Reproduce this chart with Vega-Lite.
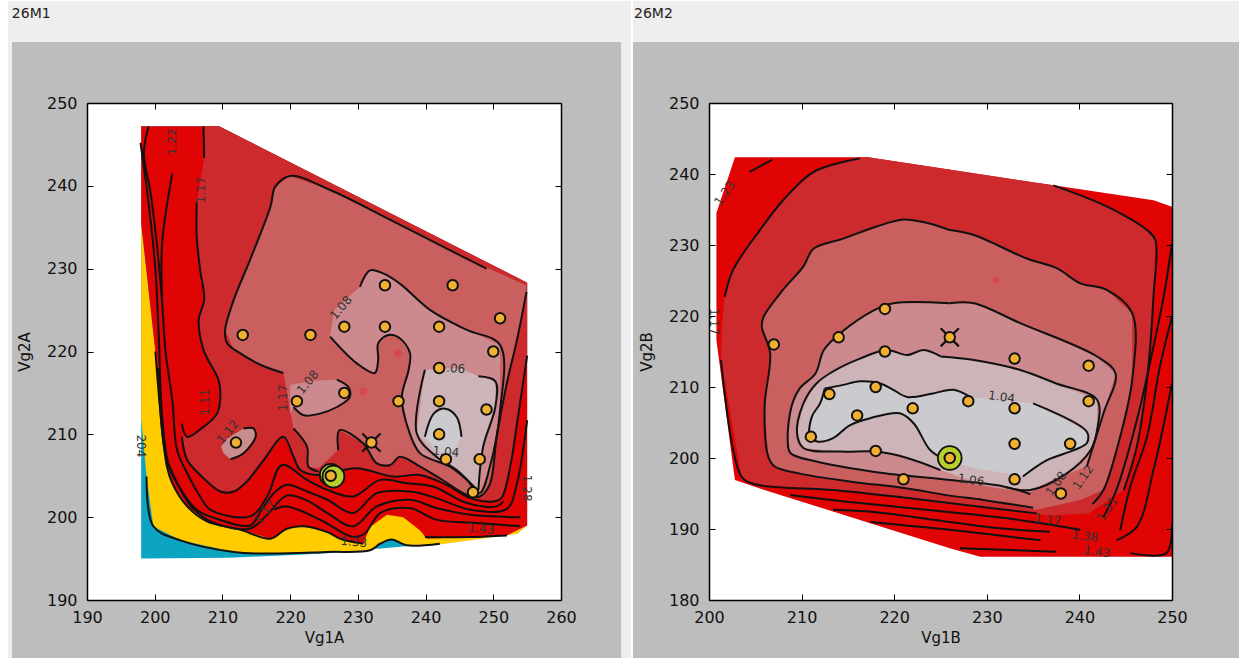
{"$schema":"https://vega.github.io/schema/vega-lite/v6.json","background":"white","padding":{"left":7,"top":0,"right":0,"bottom":0},"spacing":0,"config":{"view":{"stroke":null},"axis":{"labelFont":"DejaVu Sans","titleFont":"DejaVu Sans","labelFontSize":16,"titleFontSize":15,"titleFontWeight":"normal","labelColor":"#111","titleColor":"#111","grid":false,"domainColor":"#000","tickColor":"#000","domainWidth":1.5,"tickWidth":1,"tickSize":-6,"labelOverlap":false,"labelBound":false,"labelFlush":false}},
"datasets":{
"bg1":[{"k":"edge","x":178.33,"x2":270.35,"y":262.32,"y2":183},{"k":"panel","x":178.92,"x2":268.87,"y":257.37,"y2":183},{"k":"plot","x":190,"x2":260,"y":190,"y2":250}],
"bg2":[{"k":"edge","x":191.79,"x2":257.24,"y":264.36,"y2":171.83},{"k":"panel","x":191.79,"x2":257.24,"y":258.59,"y2":171.83},{"k":"plot","x":200,"x2":250,"y":180,"y2":250}],
"f1":[
{"s":"teal","x":198,"y":247.2},{"s":"teal","x":209.5,"y":247.2},{"s":"teal","x":255,"y":228.3},{"s":"teal","x":255,"y":199},{"s":"teal","x":253.5,"y":198},{"s":"teal","x":240,"y":196.7},{"s":"teal","x":225,"y":195.6},{"s":"teal","x":211,"y":195.1},{"s":"teal","x":198,"y":195},
{"s":"yellow","x":198,"y":235.5},{"s":"yellow","x":200.1,"y":220},{"s":"yellow","x":201.8,"y":206.1},{"s":"yellow","x":255,"y":199},{"s":"yellow","x":253.5,"y":198},{"s":"yellow","x":242.1,"y":196.7},{"s":"yellow","x":237.2,"y":196.6},{"s":"yellow","x":235,"y":197.3},{"s":"yellow","x":233.3,"y":196.8},{"s":"yellow","x":231.8,"y":196},{"s":"yellow","x":225.5,"y":195.8},{"s":"yellow","x":217,"y":195.6},{"s":"yellow","x":211.7,"y":195.8},{"s":"yellow","x":203.8,"y":197.2},{"s":"yellow","x":199.8,"y":198.9},{"s":"yellow","x":198.8,"y":204.9},{"s":"yellow","x":198,"y":212},
{"s":"red","x":198,"y":235.5},{"s":"red","x":198,"y":247.2},{"s":"red","x":209.5,"y":247.2},{"s":"red","x":255,"y":228.3},{"s":"red","x":255,"y":199},{"s":"red","x":252,"y":197.8},{"s":"red","x":240.2,"y":197.4},{"s":"red","x":239.2,"y":198.4},{"s":"red","x":236.7,"y":200},{"s":"red","x":234.3,"y":200.3},{"s":"red","x":231.8,"y":198.8},{"s":"red","x":230.8,"y":196.8},{"s":"red","x":227.4,"y":197.4},{"s":"red","x":225.5,"y":198.2},{"s":"red","x":222,"y":198.9},{"s":"red","x":219.5,"y":198.6},{"s":"red","x":217.1,"y":197.4},{"s":"red","x":212.6,"y":198.5},{"s":"red","x":207.7,"y":199.5},{"s":"red","x":204.8,"y":201.3},{"s":"red","x":202.6,"y":204.1},{"s":"red","x":201.8,"y":206.1},{"s":"red","x":200.1,"y":220},
{"s":"crimson","x":207.2,"y":247.2},{"s":"crimson","x":209.5,"y":247.2},{"s":"crimson","x":255,"y":228.3},{"s":"crimson","x":255,"y":219.5},{"s":"crimson","x":253.5,"y":211.3},{"s":"crimson","x":252.5,"y":206.1},{"s":"crimson","x":251.2,"y":202.3},{"s":"crimson","x":250,"y":201.9},{"s":"crimson","x":246.6,"y":202.3},{"s":"crimson","x":243.1,"y":203.9},{"s":"crimson","x":239.2,"y":205.1},{"s":"crimson","x":235.2,"y":204.9},{"s":"crimson","x":229.8,"y":205.9},{"s":"crimson","x":224,"y":205.1},{"s":"crimson","x":221.5,"y":205.7},{"s":"crimson","x":220.5,"y":207.3},{"s":"crimson","x":219,"y":209.7},{"s":"crimson","x":216.1,"y":206.9},{"s":"crimson","x":213.6,"y":204.3},{"s":"crimson","x":211.7,"y":203.1},{"s":"crimson","x":209.7,"y":203.1},{"s":"crimson","x":206.7,"y":205.1},{"s":"crimson","x":204.8,"y":206.9},{"s":"crimson","x":204,"y":209.7},{"s":"crimson","x":204.8,"y":209.7},{"s":"crimson","x":207.2,"y":210.9},{"s":"crimson","x":209.2,"y":212.5},{"s":"crimson","x":209.7,"y":215},{"s":"crimson","x":209.4,"y":216.6},{"s":"crimson","x":207.2,"y":220.2},{"s":"crimson","x":206.5,"y":223.8},{"s":"crimson","x":207.3,"y":226.3},{"s":"crimson","x":206.7,"y":229.9},{"s":"crimson","x":206.2,"y":233.9},{"s":"crimson","x":206.2,"y":238},{"s":"crimson","x":207.3,"y":243.4},
{"s":"rose","x":220,"y":241.2},{"s":"rose","x":225.9,"y":239.5},{"s":"rose","x":234.8,"y":235.9},{"s":"rose","x":245.1,"y":231.6},{"s":"rose","x":254.8,"y":228},{"s":"rose","x":254.9,"y":227.2},{"s":"rose","x":253.5,"y":221.4},{"s":"rose","x":252,"y":216.2},{"s":"rose","x":250.5,"y":209.7},{"s":"rose","x":249.5,"y":204},{"s":"rose","x":248.5,"y":202.5},{"s":"rose","x":246.1,"y":202.7},{"s":"rose","x":242.1,"y":204.7},{"s":"rose","x":239.2,"y":206.1},{"s":"rose","x":236.2,"y":207.3},{"s":"rose","x":234.8,"y":206.3},{"s":"rose","x":232.8,"y":206.5},{"s":"rose","x":230.8,"y":208.9},{"s":"rose","x":227.3,"y":210.5},{"s":"rose","x":227.1,"y":208.1},{"s":"rose","x":224.2,"y":205.9},{"s":"rose","x":222.7,"y":206.1},{"s":"rose","x":222.5,"y":208.5},{"s":"rose","x":220.5,"y":210.7},{"s":"rose","x":219,"y":217.4},{"s":"rose","x":215.6,"y":218.4},{"s":"rose","x":211.7,"y":220.2},{"s":"rose","x":210.4,"y":222.6},{"s":"rose","x":211.7,"y":226.3},{"s":"rose","x":214.1,"y":231.1},{"s":"rose","x":217.1,"y":237.5},{"s":"rose","x":217.8,"y":239.9},
{"s":"pink1","x":230.3,"y":227.8},{"s":"pink1","x":231.8,"y":229.8},{"s":"pink1","x":233.8,"y":229.4},{"s":"pink1","x":236.2,"y":228.2},{"s":"pink1","x":240.7,"y":225},{"s":"pink1","x":246.1,"y":222.6},{"s":"pink1","x":251,"y":220.8},{"s":"pink1","x":251,"y":212.9},{"s":"pink1","x":249.5,"y":206.1},{"s":"pink1","x":248,"y":202.9},{"s":"pink1","x":246.1,"y":204.5},{"s":"pink1","x":243.6,"y":206.1},{"s":"pink1","x":239.2,"y":207.7},{"s":"pink1","x":237.5,"y":210.5},{"s":"pink1","x":236.5,"y":214.5},{"s":"pink1","x":237.5,"y":217.8},{"s":"pink1","x":237.7,"y":219.8},{"s":"pink1","x":236.2,"y":221.6},{"s":"pink1","x":234.5,"y":222},{"s":"pink1","x":233,"y":221},{"s":"pink1","x":233,"y":219},{"s":"pink1","x":232.5,"y":217.4},{"s":"pink1","x":229.8,"y":218.6},{"s":"pink1","x":225.9,"y":221.8},{"s":"pink1","x":226.5,"y":225},
{"s":"pink2","x":220,"y":212.5},{"s":"pink2","x":220,"y":216},{"s":"pink2","x":224,"y":216.5},{"s":"pink2","x":226.9,"y":216.6},{"s":"pink2","x":228.6,"y":215.7},{"s":"pink2","x":228.8,"y":214.5},{"s":"pink2","x":226.9,"y":213.3},{"s":"pink2","x":224.4,"y":212.5},{"s":"pink2","x":222,"y":212.3},{"s":"pink2","x":220.5,"y":213.3},
{"s":"pink3","x":210.2,"y":207.7},{"s":"pink3","x":209.8,"y":208.5},{"s":"pink3","x":210.7,"y":209.5},{"s":"pink3","x":213.1,"y":210.7},{"s":"pink3","x":214.6,"y":210.7},{"s":"pink3","x":214.9,"y":209.7},{"s":"pink3","x":213.1,"y":207.7},{"s":"pink3","x":211.2,"y":207},
{"s":"light","x":239.9,"y":217.8},{"s":"light","x":245,"y":218},{"s":"light","x":247.8,"y":217},{"s":"light","x":250.3,"y":216.4},{"s":"light","x":250.3,"y":213.3},{"s":"light","x":248.5,"y":208.5},{"s":"light","x":247.8,"y":203.3},{"s":"light","x":247.6,"y":203.3},{"s":"light","x":244.6,"y":205.7},{"s":"light","x":241.6,"y":207.3},{"s":"light","x":238.7,"y":210.1},
{"s":"gray","x":239.9,"y":209.7},{"s":"gray","x":241.2,"y":212.5},{"s":"gray","x":242.9,"y":213.1},{"s":"gray","x":244.6,"y":212.1},{"s":"gray","x":245.3,"y":209.7},{"s":"gray","x":244,"y":207.5},{"s":"gray","x":241.5,"y":208}
],
"l1":[
{"s":"a1","x":198.8,"y":204.9},{"s":"a1","x":199.8,"y":198.9},{"s":"a1","x":203.8,"y":197.2},{"s":"a1","x":211.7,"y":195.8},{"s":"a1","x":217,"y":195.6},{"s":"a1","x":225.5,"y":195.8},{"s":"a1","x":231.8,"y":196},{"s":"a1","x":233.3,"y":196.8},{"s":"a1","x":235,"y":197.3},{"s":"a1","x":237.2,"y":196.6},{"s":"a1","x":242.1,"y":196.8},
{"s":"a2","x":200.1,"y":220},{"s":"a2","x":201.8,"y":206.1},{"s":"a2","x":202.6,"y":204.1},{"s":"a2","x":204.8,"y":201.3},{"s":"a2","x":207.7,"y":199.5},{"s":"a2","x":212.6,"y":198.5},{"s":"a2","x":217.1,"y":197.4},{"s":"a2","x":219.5,"y":198.6},{"s":"a2","x":222,"y":198.9},{"s":"a2","x":225.5,"y":198.2},{"s":"a2","x":227.4,"y":197.4},{"s":"a2","x":230.8,"y":196.8},
{"s":"a3","x":239.9,"y":197.6},{"s":"a3","x":246.6,"y":197.6},{"s":"a3","x":252,"y":197.8},
{"s":"b1","x":207.2,"y":247.2},{"s":"b1","x":207.3,"y":243.4},
{"s":"b2","x":206.2,"y":238},{"s":"b2","x":206.2,"y":233.9},{"s":"b2","x":206.7,"y":229.9},{"s":"b2","x":207.3,"y":226.3},{"s":"b2","x":206.5,"y":223.8},{"s":"b2","x":207.2,"y":220.2},{"s":"b2","x":209.4,"y":216.6},{"s":"b2","x":209.7,"y":215},{"s":"b2","x":209.2,"y":212.5},{"s":"b2","x":207.2,"y":210.9},{"s":"b2","x":204.8,"y":209.7},{"s":"b2","x":204,"y":211.3},
{"s":"b3","x":204,"y":209.7},{"s":"b3","x":204.8,"y":206.9},{"s":"b3","x":206.7,"y":205.1},{"s":"b3","x":209.7,"y":203.1},{"s":"b3","x":211.7,"y":203.1},{"s":"b3","x":213.6,"y":204.3},{"s":"b3","x":216.1,"y":206.9},{"s":"b3","x":219,"y":209.7},{"s":"b3","x":220.5,"y":207.3},{"s":"b3","x":221.5,"y":205.7},{"s":"b3","x":224,"y":205.1},{"s":"b3","x":229.8,"y":205.9},{"s":"b3","x":235.2,"y":204.9},{"s":"b3","x":239.2,"y":205.1},{"s":"b3","x":243.1,"y":203.9},{"s":"b3","x":246.6,"y":202.3},{"s":"b3","x":250,"y":201.9},{"s":"b3","x":251.2,"y":202.3},{"s":"b3","x":252.5,"y":206.1},{"s":"b3","x":253.5,"y":211.3},{"s":"b3","x":255,"y":219.5},
{"s":"c1","x":199.1,"y":247.2},{"s":"c1","x":198.4,"y":244},{"s":"c1","x":199.4,"y":239.1},{"s":"c1","x":200.3,"y":233.1},{"s":"c1","x":201.1,"y":225.9},{"s":"c1","x":201.6,"y":220},{"s":"c1","x":202.6,"y":214.1},{"s":"c1","x":203.3,"y":208.1},{"s":"c1","x":204.8,"y":205.3},{"s":"c1","x":206.7,"y":202.5},{"s":"c1","x":208.2,"y":200.9},{"s":"c1","x":214.1,"y":200.1},{"s":"c1","x":216.6,"y":202.5},{"s":"c1","x":218.8,"y":206.3},{"s":"c1","x":222.5,"y":204.5},{"s":"c1","x":225.5,"y":203.3},{"s":"c1","x":229.3,"y":202.5},{"s":"c1","x":233.3,"y":204.5},{"s":"c1","x":237.2,"y":204.1},{"s":"c1","x":241.1,"y":203.7},{"s":"c1","x":246.1,"y":201.7},{"s":"c1","x":250.5,"y":201.3},{"s":"c1","x":251.5,"y":201.9},
{"s":"c2","x":197.9,"y":245.2},{"s":"c2","x":199.1,"y":237.9},{"s":"c2","x":200.1,"y":229.9},{"s":"c2","x":200.6,"y":221.8},{"s":"c2","x":201.1,"y":212.1},{"s":"c2","x":202.1,"y":206.1},{"s":"c2","x":203.3,"y":204.1},{"s":"c2","x":206.2,"y":200.9},{"s":"c2","x":209.2,"y":199.8},{"s":"c2","x":214.1,"y":199},{"s":"c2","x":215.8,"y":200.9},{"s":"c2","x":217.6,"y":202.9},{"s":"c2","x":219.5,"y":203.9},{"s":"c2","x":222.5,"y":203.1},{"s":"c2","x":225.5,"y":202.1},{"s":"c2","x":229.3,"y":200.5},{"s":"c2","x":232.8,"y":202.9},{"s":"c2","x":237.7,"y":203.1},{"s":"c2","x":241.6,"y":202.3},{"s":"c2","x":246.6,"y":200.9},{"s":"c2","x":252,"y":201},{"s":"c2","x":253.5,"y":204.1},{"s":"c2","x":255,"y":211.7},
{"s":"c3","x":202.6,"y":241.5},{"s":"c3","x":201.1,"y":233.1},{"s":"c3","x":201.1,"y":225.9},
{"s":"c4","x":200.5,"y":218},{"s":"c4","x":201.5,"y":208},{"s":"c4","x":202.8,"y":205},{"s":"c4","x":205.5,"y":201.2},{"s":"c4","x":208.5,"y":199.4},{"s":"c4","x":214,"y":198.6},{"s":"c4","x":216.5,"y":200.2},{"s":"c4","x":219.5,"y":202.6},{"s":"c4","x":222.5,"y":202},{"s":"c4","x":225.5,"y":200.5},{"s":"c4","x":229.3,"y":198.9},{"s":"c4","x":232.8,"y":201.3},{"s":"c4","x":237.7,"y":202.1},{"s":"c4","x":241.6,"y":201.1},{"s":"c4","x":246.6,"y":200.3},{"s":"c4","x":254,"y":200},
{"s":"c5","x":217.6,"y":200.9},{"s":"c5","x":219.5,"y":201.3},{"s":"c5","x":224.4,"y":199.7},{"s":"c5","x":229.3,"y":197.6},{"s":"c5","x":231,"y":198},{"s":"c5","x":233.3,"y":200.5},{"s":"c5","x":237.7,"y":201.1},{"s":"c5","x":241.6,"y":199.7},{"s":"c5","x":247.5,"y":199.3},{"s":"c5","x":254,"y":198.9},
{"s":"d1","x":219,"y":217.4},{"s":"d1","x":215.6,"y":218.4},{"s":"d1","x":212.6,"y":219.8},{"s":"d1","x":210.7,"y":221},{"s":"d1","x":210.4,"y":222.6},{"s":"d1","x":211.7,"y":226.3},{"s":"d1","x":214.1,"y":231.1},{"s":"d1","x":217.1,"y":237.5},{"s":"d1","x":217.8,"y":239.9},{"s":"d1","x":220,"y":241.2},{"s":"d1","x":225.9,"y":239.5},{"s":"d1","x":234.8,"y":235.9},{"s":"d1","x":245.1,"y":231.6},{"s":"d1","x":249,"y":230},
{"s":"d2","x":220.5,"y":210.7},{"s":"d2","x":222.5,"y":208.5},{"s":"d2","x":222.7,"y":206.1},{"s":"d2","x":224.2,"y":205.5},
{"s":"d3","x":227.1,"y":208.1},{"s":"d3","x":227.3,"y":210.5},{"s":"d3","x":230.8,"y":208.9},{"s":"d3","x":232.8,"y":206.5},{"s":"d3","x":234.8,"y":206.3},{"s":"d3","x":236.2,"y":207.3},{"s":"d3","x":239.2,"y":206.1},{"s":"d3","x":242.1,"y":204.7},{"s":"d3","x":246.1,"y":202.7},{"s":"d3","x":248,"y":202.5},{"s":"d3","x":249.5,"y":204},{"s":"d3","x":250.5,"y":209.7},{"s":"d3","x":252,"y":216.2},{"s":"d3","x":253.5,"y":221.4},{"s":"d3","x":254.9,"y":227.2},
{"s":"e1","x":230.3,"y":227.8},{"s":"e1","x":231.8,"y":229.8},{"s":"e1","x":233.8,"y":229.4},{"s":"e1","x":236.2,"y":228.2},{"s":"e1","x":240.7,"y":225},{"s":"e1","x":246.1,"y":222.6},{"s":"e1","x":251,"y":220.8},{"s":"e1","x":251,"y":212.9},{"s":"e1","x":249.5,"y":206.1},{"s":"e1","x":248,"y":202.9},{"s":"e1","x":246.1,"y":204.5},{"s":"e1","x":243.6,"y":206.1},{"s":"e1","x":239.2,"y":207.7},{"s":"e1","x":237.5,"y":210.5},{"s":"e1","x":236.5,"y":214.5},{"s":"e1","x":237.5,"y":217.8},{"s":"e1","x":237.7,"y":219.8},{"s":"e1","x":236.2,"y":221.6},{"s":"e1","x":234.5,"y":222},{"s":"e1","x":233,"y":221},{"s":"e1","x":233,"y":219},{"s":"e1","x":232.5,"y":217.4},{"s":"e1","x":229.8,"y":218.6},{"s":"e1","x":225.9,"y":221.8},
{"s":"e2","x":226.9,"y":216.6},{"s":"e2","x":228.6,"y":215.7},{"s":"e2","x":228.8,"y":214.5},{"s":"e2","x":226.9,"y":213.3},{"s":"e2","x":224.4,"y":212.5},{"s":"e2","x":222,"y":212.3},{"s":"e2","x":220.5,"y":213.3},
{"s":"e3","x":213.1,"y":210.7},{"s":"e3","x":214.6,"y":210.7},{"s":"e3","x":214.9,"y":209.7},{"s":"e3","x":213.1,"y":207.7},{"s":"e3","x":211.2,"y":207},
{"s":"g1","x":239.9,"y":217.8},{"s":"g1","x":238.7,"y":210.1},{"s":"g1","x":241.6,"y":207.3},{"s":"g1","x":244.6,"y":205.7},{"s":"g1","x":247.6,"y":203.3},
{"s":"g2","x":247.8,"y":203.3},{"s":"g2","x":248.5,"y":208.5},{"s":"g2","x":250.3,"y":213.3},{"s":"g2","x":250.3,"y":216.4},{"s":"g2","x":247.8,"y":217},
{"s":"h1","x":239.9,"y":209.7},{"s":"h1","x":241.2,"y":212.5},{"s":"h1","x":242.9,"y":213.1},{"s":"h1","x":244.6,"y":212.1},{"s":"h1","x":245.3,"y":209.7}
],
"f2":[
{"s":"red","x":202.8,"y":242.35},{"s":"red","x":217.2,"y":242.35},{"s":"red","x":237.2,"y":238.4},{"s":"red","x":248,"y":236.3},{"s":"red","x":250,"y":235.4},{"s":"red","x":250,"y":186.1},{"s":"red","x":229.3,"y":186.1},{"s":"red","x":226,"y":187.3},{"s":"red","x":205.5,"y":195.7},{"s":"red","x":202.8,"y":196.9},{"s":"red","x":200.8,"y":216.6},{"s":"red","x":200.8,"y":234.5},
{"s":"crimson","x":216.3,"y":242.35},{"s":"crimson","x":217.2,"y":242.35},{"s":"crimson","x":237.2,"y":238.4},{"s":"crimson","x":243,"y":235.4},{"s":"crimson","x":247.3,"y":232.1},{"s":"crimson","x":248.2,"y":230.7},{"s":"crimson","x":248,"y":222.7},{"s":"crimson","x":247.3,"y":211},{"s":"crimson","x":246.2,"y":201.6},{"s":"crimson","x":244.8,"y":195.5},{"s":"crimson","x":241,"y":192.2},{"s":"crimson","x":236.5,"y":191.9},{"s":"crimson","x":230.4,"y":192.9},{"s":"crimson","x":225,"y":193.6},{"s":"crimson","x":220.6,"y":194.5},{"s":"crimson","x":213.4,"y":195.5},{"s":"crimson","x":205,"y":196.3},{"s":"crimson","x":203.5,"y":197.4},{"s":"crimson","x":201.3,"y":213.8},{"s":"crimson","x":201.4,"y":219},{"s":"crimson","x":201.7,"y":222.7},{"s":"crimson","x":202.6,"y":226.5},{"s":"crimson","x":205.5,"y":232.1},{"s":"crimson","x":208,"y":236.3},{"s":"crimson","x":211.3,"y":240.3},
{"s":"rose","x":226,"y":232.1},{"s":"rose","x":223.9,"y":233},{"s":"rose","x":221,"y":233.6},{"s":"rose","x":218.1,"y":232.6},{"s":"rose","x":214.5,"y":230.9},{"s":"rose","x":211.3,"y":229.5},{"s":"rose","x":210.2,"y":227},{"s":"rose","x":208,"y":223.7},{"s":"rose","x":205.9,"y":219.9},{"s":"rose","x":205.7,"y":218.5},{"s":"rose","x":206.6,"y":214.8},{"s":"rose","x":206,"y":207.2},{"s":"rose","x":206.4,"y":200.2},{"s":"rose","x":207.1,"y":198.8},{"s":"rose","x":209.8,"y":197.8},{"s":"rose","x":215.2,"y":196.7},{"s":"rose","x":221.4,"y":195.7},{"s":"rose","x":226,"y":194.7},{"s":"rose","x":229.6,"y":194.1},{"s":"rose","x":235.4,"y":192.7},{"s":"rose","x":240.1,"y":194.1},{"s":"rose","x":242.6,"y":195.5},{"s":"rose","x":244.4,"y":203},{"s":"rose","x":245.7,"y":211},{"s":"rose","x":245.7,"y":220.4},{"s":"rose","x":242.9,"y":223.7},{"s":"rose","x":240.1,"y":224.6},{"s":"rose","x":237.6,"y":226.7},{"s":"rose","x":234.3,"y":228.1},{"s":"rose","x":228.6,"y":231.4},
{"s":"pink1","x":226,"y":221.8},{"s":"pink1","x":219.9,"y":221.8},{"s":"pink1","x":217.8,"y":220.8},{"s":"pink1","x":214.2,"y":217.6},{"s":"pink1","x":212.4,"y":215.2},{"s":"pink1","x":211.5,"y":211.9},{"s":"pink1","x":209.8,"y":209.8},{"s":"pink1","x":208.9,"y":207.2},{"s":"pink1","x":208.5,"y":202.5},{"s":"pink1","x":208.8,"y":200.7},{"s":"pink1","x":211.6,"y":199.5},{"s":"pink1","x":218.1,"y":198},{"s":"pink1","x":226,"y":196.9},{"s":"pink1","x":231.8,"y":195.6},{"s":"pink1","x":234.7,"y":195.2},{"s":"pink1","x":237.5,"y":197.1},{"s":"pink1","x":240.8,"y":198.8},{"s":"pink1","x":242.6,"y":206.3},{"s":"pink1","x":243.9,"y":211.9},{"s":"pink1","x":241.9,"y":214.3},{"s":"pink1","x":233.6,"y":219},{"s":"pink1","x":228.6,"y":221.8},
{"s":"light","x":223.2,"y":215.2},{"s":"light","x":221.4,"y":214.5},{"s":"light","x":219.2,"y":215.2},{"s":"light","x":216.3,"y":214},{"s":"light","x":213.4,"y":212.2},{"s":"light","x":211.6,"y":210.5},{"s":"light","x":210.2,"y":207.7},{"s":"light","x":209.5,"y":203.5},{"s":"light","x":210.2,"y":201.4},{"s":"light","x":214.2,"y":200.9},{"s":"light","x":218.1,"y":200.9},{"s":"light","x":221.4,"y":200},{"s":"light","x":225,"y":198.3},{"s":"light","x":229.6,"y":196.2},{"s":"light","x":232,"y":195.9},{"s":"light","x":234.7,"y":195.5},{"s":"light","x":238.6,"y":197.8},{"s":"light","x":241.2,"y":201.1},{"s":"light","x":241.9,"y":203.9},{"s":"light","x":241.9,"y":208.2},{"s":"light","x":237.5,"y":210.5},{"s":"light","x":233.6,"y":212.4},{"s":"light","x":228.6,"y":213.8},{"s":"light","x":225,"y":214.3},
{"s":"gray","x":212.5,"y":209.8},{"s":"gray","x":214.5,"y":210.3},{"s":"gray","x":216.3,"y":210.8},{"s":"gray","x":218.5,"y":210.5},{"s":"gray","x":219.9,"y":209.6},{"s":"gray","x":221.4,"y":208.6},{"s":"gray","x":224.2,"y":209.1},{"s":"gray","x":226.4,"y":209.6},{"s":"gray","x":228.2,"y":208.6},{"s":"gray","x":235,"y":207.7},{"s":"gray","x":240.8,"y":203.7},{"s":"gray","x":240.8,"y":202.1},{"s":"gray","x":239.4,"y":201.1},{"s":"gray","x":236.5,"y":199.7},{"s":"gray","x":233.9,"y":197.4},{"s":"gray","x":232.2,"y":197.8},{"s":"gray","x":229,"y":198.5},{"s":"gray","x":226,"y":199.5},{"s":"gray","x":223.9,"y":201.1},{"s":"gray","x":222.1,"y":204.9},{"s":"gray","x":220.6,"y":206.3},{"s":"gray","x":217.4,"y":205.6},{"s":"gray","x":215.2,"y":204.6},{"s":"gray","x":213.4,"y":202.8},{"s":"gray","x":211.8,"y":202.3},{"s":"gray","x":210.9,"y":203},{"s":"gray","x":211.1,"y":205.8},{"s":"gray","x":212,"y":207.7}
],
"l2":[
{"s":"a","x":216.3,"y":242.2},{"s":"a","x":211.3,"y":240.3},{"s":"a","x":208,"y":236.3},{"s":"a","x":205.5,"y":232.1},{"s":"a","x":202.6,"y":226.5},{"s":"a","x":201.7,"y":222.7},
{"s":"a0","x":204.4,"y":240.3},{"s":"a0","x":206.8,"y":242},
{"s":"b","x":201.3,"y":213.8},{"s":"b","x":203.5,"y":197.4},{"s":"b","x":205,"y":196.3},{"s":"b","x":213.4,"y":195.5},{"s":"b","x":220.6,"y":194.5},{"s":"b","x":225,"y":193.8},{"s":"b","x":235.4,"y":192.2},
{"s":"b2","x":237.2,"y":238.4},{"s":"b2","x":243,"y":235.4},{"s":"b2","x":247.3,"y":232.1},{"s":"b2","x":248.2,"y":230.7},{"s":"b2","x":248,"y":222.7},{"s":"b2","x":247.3,"y":211},{"s":"b2","x":246.2,"y":201.6},{"s":"b2","x":244.8,"y":195.5},
{"s":"c","x":226,"y":232.1},{"s":"c","x":223.9,"y":233},{"s":"c","x":221,"y":233.6},{"s":"c","x":218.1,"y":232.6},{"s":"c","x":214.5,"y":230.9},{"s":"c","x":211.3,"y":229.5},{"s":"c","x":210.2,"y":227},{"s":"c","x":208,"y":223.7},{"s":"c","x":205.9,"y":219.9},{"s":"c","x":205.7,"y":218.5},{"s":"c","x":206.6,"y":214.8},{"s":"c","x":206,"y":207.2},{"s":"c","x":206.4,"y":200.2},{"s":"c","x":207.1,"y":198.8},{"s":"c","x":209.8,"y":197.8},{"s":"c","x":215.2,"y":196.7},{"s":"c","x":221.4,"y":195.7},{"s":"c","x":226,"y":194.7},{"s":"c","x":229.6,"y":194.1},{"s":"c","x":235,"y":193},
{"s":"c2","x":226,"y":232.1},{"s":"c2","x":228.6,"y":231.4},{"s":"c2","x":234.3,"y":228.1},{"s":"c2","x":237.6,"y":226.7},{"s":"c2","x":240.1,"y":224.6},{"s":"c2","x":242.9,"y":223.7},{"s":"c2","x":245.7,"y":220.4},{"s":"c2","x":245.7,"y":211},{"s":"c2","x":244.4,"y":203},{"s":"c2","x":242.6,"y":195.5},{"s":"c2","x":241.4,"y":193.5},
{"s":"d","x":226,"y":221.8},{"s":"d","x":219.9,"y":221.8},{"s":"d","x":217.8,"y":220.8},{"s":"d","x":214.2,"y":217.6},{"s":"d","x":212.4,"y":215.2},{"s":"d","x":211.5,"y":211.9},{"s":"d","x":209.8,"y":209.8},{"s":"d","x":208.9,"y":207.2},{"s":"d","x":208.5,"y":202.5},{"s":"d","x":208.8,"y":200.7},{"s":"d","x":211.6,"y":199.5},{"s":"d","x":218.1,"y":198},{"s":"d","x":226,"y":196.9},{"s":"d","x":231.8,"y":196},{"s":"d","x":234.7,"y":194.9},
{"s":"d2","x":226,"y":221.8},{"s":"d2","x":228.6,"y":221.8},{"s":"d2","x":233.6,"y":219},{"s":"d2","x":241.9,"y":214.3},{"s":"d2","x":243.9,"y":211.9},{"s":"d2","x":242.6,"y":206.3},{"s":"d2","x":240.8,"y":198.8},
{"s":"e","x":225,"y":214.3},{"s":"e","x":223.2,"y":215.2},{"s":"e","x":221.4,"y":214.5},{"s":"e","x":219.2,"y":215.2},{"s":"e","x":216.3,"y":214},{"s":"e","x":213.4,"y":212.2},{"s":"e","x":211.6,"y":210.5},{"s":"e","x":210.2,"y":207.7},{"s":"e","x":209.5,"y":203.5},{"s":"e","x":210.2,"y":201.4},{"s":"e","x":214.2,"y":200.9},{"s":"e","x":218.1,"y":200.9},{"s":"e","x":221.4,"y":200},{"s":"e","x":225,"y":198.3},
{"s":"e2","x":225,"y":214.3},{"s":"e2","x":228.6,"y":213.8},{"s":"e2","x":233.6,"y":212.4},{"s":"e2","x":237.5,"y":210.5},{"s":"e2","x":241.9,"y":208.2},{"s":"e2","x":241.9,"y":203.9},{"s":"e2","x":241.2,"y":201.1},{"s":"e2","x":238.6,"y":197.8},{"s":"e2","x":234.7,"y":195.5},{"s":"e2","x":232,"y":195.9},
{"s":"g1","x":212.5,"y":209.8},{"s":"g1","x":214.5,"y":210.3},{"s":"g1","x":216.3,"y":210.8},{"s":"g1","x":218.5,"y":210.5},{"s":"g1","x":219.9,"y":209.6},{"s":"g1","x":221.4,"y":208.6},{"s":"g1","x":224.2,"y":209.1},{"s":"g1","x":226.4,"y":209.6},{"s":"g1","x":228.2,"y":208.6},
{"s":"g2","x":235,"y":207.7},{"s":"g2","x":240.8,"y":203.7},{"s":"g2","x":240.8,"y":202.1},{"s":"g2","x":239.4,"y":201.1},{"s":"g2","x":236.5,"y":199.7},{"s":"g2","x":233.9,"y":197.4},
{"s":"g3","x":225.5,"y":199.8},{"s":"g3","x":223.9,"y":201.1},{"s":"g3","x":222.1,"y":204.9},{"s":"g3","x":220.6,"y":206.3},{"s":"g3","x":217.4,"y":205.6},{"s":"g3","x":215.2,"y":204.6},{"s":"g3","x":213.4,"y":202.8},{"s":"g3","x":211.8,"y":202.3},{"s":"g3","x":210.9,"y":203},{"s":"g3","x":211.1,"y":205.8},{"s":"g3","x":212,"y":207.7},{"s":"g3","x":212.5,"y":209.8},
{"s":"r1","x":208.8,"y":194.8},{"s":"r1","x":215.2,"y":193.8},{"s":"r1","x":223.5,"y":192.7},{"s":"r1","x":232.2,"y":191.5},{"s":"r1","x":240.1,"y":189.9},
{"s":"r2","x":213.4,"y":192.7},{"s":"r2","x":217.8,"y":192.4},{"s":"r2","x":226,"y":191},{"s":"r2","x":231.4,"y":190.1},{"s":"r2","x":236.8,"y":189.6},
{"s":"r3","x":217.4,"y":191},{"s":"r3","x":226,"y":189.9},{"s":"r3","x":235.8,"y":188.4},
{"s":"r4","x":227.1,"y":187.3},{"s":"r4","x":237.5,"y":186.8},
{"s":"s1","x":250,"y":230.2},{"s":"s1","x":249.1,"y":222.7},{"s":"s1","x":248,"y":215.7},{"s":"s1","x":246.2,"y":205.3},{"s":"s1","x":244,"y":195.5},{"s":"s1","x":242.6,"y":191.7},
{"s":"s2","x":250,"y":219.9},{"s":"s2","x":248.7,"y":212.9},{"s":"s2","x":247.3,"y":203},{"s":"s2","x":245.5,"y":196},{"s":"s2","x":244.4,"y":189.8},
{"s":"s3","x":250,"y":210.5},{"s":"s3","x":248,"y":198.3},{"s":"s3","x":246.2,"y":190.3},{"s":"s3","x":244,"y":188.4},
{"s":"s4","x":250,"y":190.8},{"s":"s4","x":249.4,"y":186.6},{"s":"s4","x":245.5,"y":186.6}
],
"p1":[{"x":213,"y":222},{"x":223,"y":222},{"x":228,"y":223},{"x":234,"y":223},{"x":234,"y":228},{"x":244,"y":228},{"x":251,"y":224},{"x":242,"y":223},{"x":250,"y":220},{"x":242,"y":218},{"x":236,"y":214},{"x":242,"y":214},{"x":249,"y":213},{"x":228,"y":215},{"x":221,"y":214},{"x":212,"y":209},{"x":242,"y":210},{"x":243,"y":207},{"x":248,"y":207},{"x":247,"y":203},{"x":232,"y":209},{"x":226,"y":205}],
"p2":[{"x":207,"y":216},{"x":214,"y":217},{"x":219,"y":221},{"x":219,"y":215},{"x":226,"y":217},{"x":233,"y":214},{"x":241,"y":213},{"x":241,"y":208},{"x":233,"y":207},{"x":228,"y":208},{"x":222,"y":207},{"x":218,"y":210},{"x":213,"y":209},{"x":216,"y":206},{"x":211,"y":203},{"x":218,"y":201},{"x":221,"y":197},{"x":226,"y":200},{"x":233,"y":202},{"x":233,"y":197},{"x":239,"y":202},{"x":238,"y":195}]
},
"hconcat":[
{"width":474,"height":497,
"encoding":{"x":{"field":"x","type":"quantitative","scale":{"domain":[190,260],"nice":false,"zero":false},"axis":null},"y":{"field":"y","type":"quantitative","scale":{"domain":[190,250],"nice":false,"zero":false},"axis":null}},
"layer":[
{"data":{"name":"bg1"},"mark":{"type":"rect","clip":false},"encoding":{"x2":{"field":"x2"},"y2":{"field":"y2"},"fill":{"field":"k","type":"nominal","legend":null,"scale":{"domain":["edge","panel","plot"],"range":["#eeeeee","#bdbdbd","#ffffff"]}}}},
{"data":{"values":[{"x":178.9,"y":260.75,"t":"26M1"}]},"mark":{"type":"text","align":"left","baseline":"middle","font":"DejaVu Sans","fontSize":14,"color":"#222"},"encoding":{"text":{"field":"t"}}},
{"data":{"name":"f1"},"mark":{"type":"line","order":null,"strokeWidth":0},"encoding":{"fill":{"field":"s","type":"nominal","legend":null,"scale":{"domain":["teal","yellow","red","crimson","rose","pink1","pink2","pink3","light","gray"],"range":["#0ba5c2","#ffcc00","#e00404","#cc2a2d","#c9605f","#cc8a8e","#cc8a8e","#c98d8d","#ccb4b8","#cbcbcf"]}}}},
{"data":{"values":[{"x":235.9,"y":219.8},{"x":230.8,"y":215.2}]},"mark":{"type":"circle","size":60,"color":"#dd4455","opacity":0.9},"encoding":{}},
{"data":{"name":"l1"},"mark":{"type":"line","order":null,"interpolate":"catmull-rom","color":"#111","strokeWidth":2},"encoding":{"detail":{"field":"s"}}},
{"data":{"values":[{"t":"1.22","x":202.6,"y":245.3},{"t":"1.17","x":206.8,"y":239.5},{"t":"1.11","x":207.4,"y":213.9},{"t":"1.17","x":218.9,"y":214.4}]},"mark":{"type":"text","angle":270,"font":"DejaVu Sans","fontSize":12,"color":"#333"},"encoding":{"text":{"field":"t"}}},
{"data":{"values":[{"t":"1.08","x":227.5,"y":225.3},{"t":"1.12","x":210.8,"y":210.3},{"t":"1.08","x":222.6,"y":216.3},{"t":"1.17","x":216.3,"y":200.6}]},"mark":{"type":"text","angle":310,"font":"DejaVu Sans","fontSize":12,"color":"#333"},"encoding":{"text":{"field":"t"}}},
{"data":{"values":[{"t":"1.06","x":243.9,"y":218},{"t":"1.04","x":243,"y":207.9},{"t":"1.43","x":248.2,"y":198.6},{"t":"1.33","x":229.4,"y":197}]},"mark":{"type":"text","angle":5,"font":"DejaVu Sans","fontSize":12,"color":"#333"},"encoding":{"text":{"field":"t"}}},
{"data":{"values":[{"t":"204","x":198,"y":208.6},{"t":"1.28","x":255,"y":203.5}]},"mark":{"type":"text","angle":90,"font":"DejaVu Sans","fontSize":12,"color":"#333"},"encoding":{"text":{"field":"t"}}},
{"data":{"values":[{"x":226,"y":205.1},{"x":226.4,"y":204.9}]},"mark":{"type":"circle","size":480,"color":"#b6cf2b","opacity":1,"stroke":"#111","strokeWidth":1.8},"encoding":{}},
{"data":{"values":[{"x":232,"y":209}]},"mark":{"type":"point","shape":"M-1,-1L1,1M-1,1L1,-1","size":330,"color":"#111","strokeWidth":2.2,"filled":false,"opacity":1},"encoding":{}},
{"data":{"name":"p1"},"mark":{"type":"point","shape":"circle","filled":true,"size":110,"fill":"#f2b030","stroke":"#111","strokeWidth":2,"opacity":1},
"encoding":{"x":{"field":"x","type":"quantitative","scale":{"domain":[190,260],"nice":false,"zero":false},"axis":{"zindex":1,"values":[190,200,210,220,230,240,250,260],"title":"Vg1A","orient":"bottom","titlePadding":5,"labelPadding":15}},"y":{"field":"y","type":"quantitative","scale":{"domain":[190,250],"nice":false,"zero":false},"axis":{"zindex":1,"values":[190,200,210,220,230,240,250],"title":"Vg2A","orient":"left","titlePadding":14,"labelPadding":16}}}},
{"data":{"values":[{"x":190,"y":190}]},"mark":{"type":"point","opacity":0},
"encoding":{"x":{"field":"x","type":"quantitative","scale":{"domain":[190,260],"nice":false,"zero":false},"axis":{"zindex":1,"values":[190,200,210,220,230,240,250,260],"title":null,"orient":"top","labels":false}},"y":{"field":"y","type":"quantitative","scale":{"domain":[190,250],"nice":false,"zero":false},"axis":{"zindex":1,"values":[190,200,210,220,230,240,250],"title":null,"orient":"right","labels":false}}}}
],"resolve":{"axis":{"x":"independent","y":"independent"},"scale":{"fill":"independent"}}},
{"width":463,"height":497,
"encoding":{"x":{"field":"x","type":"quantitative","scale":{"domain":[200,250],"nice":false,"zero":false},"axis":null},"y":{"field":"y","type":"quantitative","scale":{"domain":[180,250],"nice":false,"zero":false},"axis":null}},
"layer":[
{"data":{"name":"bg2"},"mark":{"type":"rect","clip":false},"encoding":{"x2":{"field":"x2"},"y2":{"field":"y2"},"fill":{"field":"k","type":"nominal","legend":null,"scale":{"domain":["edge","panel","plot"],"range":["#eeeeee","#bdbdbd","#ffffff"]}}}},
{"data":{"values":[{"x":191.9,"y":262.5,"t":"26M2"}]},"mark":{"type":"text","align":"left","baseline":"middle","font":"DejaVu Sans","fontSize":14,"color":"#222"},"encoding":{"text":{"field":"t"}}},
{"data":{"name":"f2"},"mark":{"type":"line","order":null,"strokeWidth":0},"encoding":{"fill":{"field":"s","type":"nominal","legend":null,"scale":{"domain":["red","crimson","rose","pink1","light","gray"],"range":["#e00404","#cc2a2d","#c9605f","#cc8a8e","#ccb4b8","#cbcbcf"]}}}},
{"data":{"values":[{"x":231,"y":225}]},"mark":{"type":"circle","size":40,"color":"#dd4455","opacity":0.9},"encoding":{}},
{"data":{"name":"l2"},"mark":{"type":"line","order":null,"interpolate":"catmull-rom","color":"#111","strokeWidth":2},"encoding":{"detail":{"field":"s"}}},
{"data":{"values":[{"t":"1.23","x":201.7,"y":237.3},{"t":"1.12","x":240.4,"y":197.3},{"t":"1.31","x":243,"y":192.8},{"t":"1.08","x":237.5,"y":196.4}]},"mark":{"type":"text","angle":305,"font":"DejaVu Sans","fontSize":12,"color":"#333"},"encoding":{"text":{"field":"t"}}},
{"data":{"values":[{"t":"1.17","x":200.5,"y":219.2}]},"mark":{"type":"text","angle":90,"font":"DejaVu Sans","fontSize":12,"color":"#333"},"encoding":{"text":{"field":"t"}}},
{"data":{"values":[{"t":"1.04","x":231.6,"y":208.6},{"t":"1.06","x":228.3,"y":196.9},{"t":"1.17","x":236.6,"y":191.3},{"t":"1.38","x":240.6,"y":189},{"t":"1.43","x":241.9,"y":186.8}]},"mark":{"type":"text","angle":8,"font":"DejaVu Sans","fontSize":12,"color":"#333"},"encoding":{"text":{"field":"t"}}},
{"data":{"values":[{"x":226,"y":200}]},"mark":{"type":"circle","size":560,"color":"#b6cf2b","opacity":1,"stroke":"#111","strokeWidth":1.8},"encoding":{}},
{"data":{"values":[{"x":226,"y":217}]},"mark":{"type":"point","shape":"M-1,-1L1,1M-1,1L1,-1","size":330,"color":"#111","strokeWidth":2.2,"filled":false,"opacity":1},"encoding":{}},
{"data":{"name":"p2"},"mark":{"type":"point","shape":"circle","filled":true,"size":110,"fill":"#f2b030","stroke":"#111","strokeWidth":2,"opacity":1},
"encoding":{"x":{"field":"x","type":"quantitative","scale":{"domain":[200,250],"nice":false,"zero":false},"axis":{"zindex":1,"values":[200,210,220,230,240,250],"title":"Vg1B","orient":"bottom","titlePadding":5,"labelPadding":15}},"y":{"field":"y","type":"quantitative","scale":{"domain":[180,250],"nice":false,"zero":false},"axis":{"zindex":1,"values":[180,190,200,210,220,230,240,250],"title":"Vg2B","orient":"left","titlePadding":14,"labelPadding":16}}}},
{"data":{"values":[{"x":200,"y":180}]},"mark":{"type":"point","opacity":0},
"encoding":{"x":{"field":"x","type":"quantitative","scale":{"domain":[200,250],"nice":false,"zero":false},"axis":{"zindex":1,"values":[200,210,220,230,240,250],"title":null,"orient":"top","labels":false}},"y":{"field":"y","type":"quantitative","scale":{"domain":[180,250],"nice":false,"zero":false},"axis":{"zindex":1,"values":[180,190,200,210,220,230,240,250],"title":null,"orient":"right","labels":false}}}}
],"resolve":{"axis":{"x":"independent","y":"independent"},"scale":{"fill":"independent"}}}
]}
